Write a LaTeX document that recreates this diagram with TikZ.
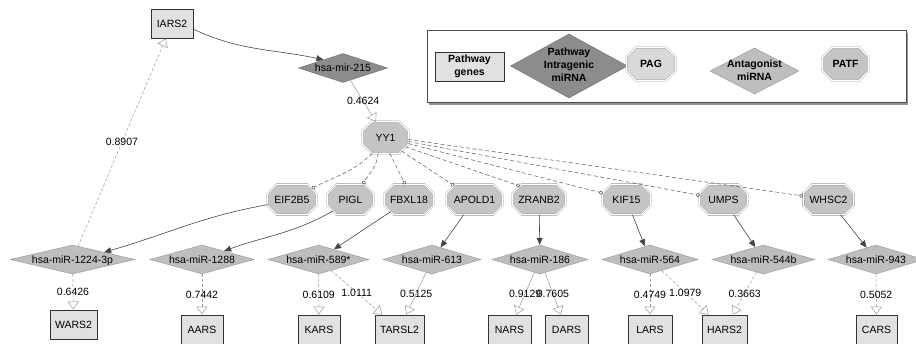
\documentclass[tikz,border=0pt]{standalone}
\usepackage{fontspec}
\setmainfont{Liberation Sans}
\usetikzlibrary{shapes.geometric,arrows.meta,shadows}
\definecolor{genefill}{HTML}{E1E1E1}
\definecolor{darkmirfill}{HTML}{8C8C8C}
\definecolor{mirfill}{HTML}{BEBEBE}
\definecolor{octfill}{HTML}{C4C4C4}
\definecolor{pagfill}{HTML}{D9D9D9}
\definecolor{edgedark}{HTML}{444444}
\definecolor{edgegray}{HTML}{999999}
\newcommand{\zbox}[1]{\makebox[0pt]{\smash{\raisebox{-3.75pt}{#1}}}}
\newcommand{\zstack}[1]{\makebox[0pt]{\begin{tabular}{@{}c@{}}#1\end{tabular}}}
\makeatletter
\pgfkeys{/pgf/oct chamfer/.initial=9pt}
\pgfdeclareshape{octbox}{%
  \inheritsavedanchors[from=rectangle]%
  \inheritanchor[from=rectangle]{center}%
  \inheritanchor[from=rectangle]{north}%
  \inheritanchor[from=rectangle]{south}%
  \inheritanchor[from=rectangle]{east}%
  \inheritanchor[from=rectangle]{west}%
  \savedmacro\octc{\pgfmathsetmacro\octc{\pgfkeysvalueof{/pgf/oct chamfer}}}%
  \anchorborder{%
    \edef\oct@qx{\the\pgf@x}\edef\oct@qy{\the\pgf@y}%
    \southwest\edef\oct@swx{\the\pgf@x}\edef\oct@swy{\the\pgf@y}%
    \northeast\edef\oct@nex{\the\pgf@x}\edef\oct@ney{\the\pgf@y}%
    \pgfmathsetmacro\oct@a{(\oct@nex-\oct@swx)/2}%
    \pgfmathsetmacro\oct@b{(\oct@ney-\oct@swy)/2}%
    \pgfmathsetmacro\oct@cx{(\oct@nex+\oct@swx)/2}%
    \pgfmathsetmacro\oct@cy{(\oct@ney+\oct@swy)/2}%
    \pgfmathsetmacro\oct@dx{\oct@qx-\oct@cx}%
    \pgfmathsetmacro\oct@dy{\oct@qy-\oct@cy}%
    \pgfmathsetmacro\oct@ax{max(abs(\oct@dx),0.01)}%
    \pgfmathsetmacro\oct@ay{max(abs(\oct@dy),0.01)}%
    \pgfmathsetmacro\oct@t{min(\oct@a/\oct@ax,\oct@b/\oct@ay,(\oct@a+\oct@b-\octc)/(\oct@ax+\oct@ay))}%
    \pgfmathsetmacro\oct@rx{\oct@cx+\oct@t*\oct@dx}%
    \pgfmathsetmacro\oct@ry{\oct@cy+\oct@t*\oct@dy}%
    \pgf@x=\oct@rx pt\relax
    \pgf@y=\oct@ry pt\relax
  }%
  \backgroundpath{%
    \southwest\edef\oct@swx{\the\pgf@x}\edef\oct@swy{\the\pgf@y}%
    \northeast\edef\oct@nex{\the\pgf@x}\edef\oct@ney{\the\pgf@y}%
    \pgfpathmoveto{\pgfpoint{\oct@swx+\octc pt}{\oct@swy}}%
    \pgfpathlineto{\pgfpoint{\oct@nex-\octc pt}{\oct@swy}}%
    \pgfpathlineto{\pgfpoint{\oct@nex}{\oct@swy+\octc pt}}%
    \pgfpathlineto{\pgfpoint{\oct@nex}{\oct@ney-\octc pt}}%
    \pgfpathlineto{\pgfpoint{\oct@nex-\octc pt}{\oct@ney}}%
    \pgfpathlineto{\pgfpoint{\oct@swx+\octc pt}{\oct@ney}}%
    \pgfpathlineto{\pgfpoint{\oct@swx}{\oct@ney-\octc pt}}%
    \pgfpathlineto{\pgfpoint{\oct@swx}{\oct@swy+\octc pt}}%
    \pgfpathclose
  }%
}
\makeatother
\tikzset{
  every node/.style={font=\fontsize{10.5}{12.5}\selectfont},
  gene/.style={rectangle, draw=black!80, line width=0.9pt, fill=genefill, inner sep=0pt, minimum height=29pt},
  darkmir/.style={diamond, draw=black!55, line width=0.5pt, fill=darkmirfill, inner sep=0pt, aspect=3},
  amir/.style={diamond, draw=black!38, line width=0.5pt, fill=mirfill, inner sep=0pt, aspect=3, minimum height=29pt},
  oct/.style={shape=octbox, oct chamfer=9pt,
    draw=black!40, double=white, double distance=1.1pt, line width=0.5pt, fill=octfill,
    inner sep=0pt, minimum height=30pt},
  lbl/.style={midway, inner sep=0pt},
  legtext/.style={font=\bfseries\fontsize{10.5}{13}\selectfont},
  darkarrow/.style={draw=edgedark, line width=0.6pt, -{Triangle[length=7pt,width=6pt]}},
  hollowsolid/.style={draw=edgegray, line width=0.5pt, -{Triangle[open,length=8pt,width=11pt]}},
  hollowdash/.style={draw=edgegray, line width=0.5pt, dash pattern=on 3pt off 2pt, -{Triangle[open,length=8pt,width=11pt]}},
  circdash/.style={draw=edgedark!90, line width=0.5pt, dash pattern=on 4pt off 2.5pt, -{Circle[open,length=4pt]}},
}
\begin{document}
\begin{tikzpicture}[x=1pt,y=1pt]
\useasboundingbox (0,0) rectangle (916,-343);

% legend
\node[draw=black!70, fill=white, line width=0.8pt, inner sep=0pt,
  drop shadow={shadow xshift=1.5pt, shadow yshift=-2.5pt, fill=black!70, opacity=0.6},
  minimum width=479pt, minimum height=72pt] (legend) at (666.5,-66) {};
\node[gene, minimum width=69pt, legtext] (lg1) at (469.5,-66.5) {\zstack{Pathway\\genes}};
\node[darkmir, minimum width=86pt, minimum height=64pt, legtext] (lg2) at (569,-66) {\zstack{Pathway\\Intragenic\\miRNA}};
\node[oct, fill=pagfill, minimum width=48pt, minimum height=32pt, legtext] (lg3) at (651,-64) {\zbox{PAG}};
\node[amir, minimum width=89pt, minimum height=46pt, legtext] (lg4) at (754.5,-71) {\zstack{Antagonist\\miRNA}};
\node[oct, minimum width=45pt, minimum height=32pt, legtext] (lg5) at (845.5,-64) {\zbox{PATF}};

% top nodes
\node[gene, minimum width=42pt] (iars) at (172,-23.5) {\zbox{IARS2}};
\node[darkmir, minimum width=89pt, minimum height=29pt] (m215) at (343,-68) {\zbox{hsa-mir-215}};
\node[oct, minimum width=45pt, minimum height=31pt] (yy1) at (385.5,-137.5) {\zbox{YY1}};

% PAG row
\node[oct, minimum width=48pt] (eif) at (292,-199.5) {\zbox{EIF2B5}};
\node[oct, minimum width=45pt] (pigl) at (350.5,-199.5) {\zbox{PIGL}};
\node[oct, minimum width=48pt] (fbxl) at (409,-199.5) {\zbox{FBXL18}};
\node[oct, minimum width=55pt] (apold) at (474.5,-199.5) {\zbox{APOLD1}};
\node[oct, minimum width=52pt] (zranb) at (539,-199.5) {\zbox{ZRANB2}};
\node[oct, minimum width=47pt] (kif) at (626.5,-199.5) {\zbox{KIF15}};
\node[oct, minimum width=47pt] (umps) at (723.5,-199.5) {\zbox{UMPS}};
\node[oct, minimum width=50pt] (whsc) at (828.5,-199.5) {\zbox{WHSC2}};

% miRNA row
\node[amir, minimum width=125pt] (m1224) at (72.5,-259.5) {\zbox{hsa-miR-1224-3p}};
\node[amir, minimum width=104pt] (m1288) at (202,-259.5) {\zbox{hsa-miR-1288}};
\node[amir, minimum width=101pt] (m589) at (318.5,-259.5) {\zbox{hsa-miR-589*}};
\node[amir, minimum width=98pt] (m613) at (432,-259.5) {\zbox{hsa-miR-613}};
\node[amir, minimum width=96pt] (m186) at (540,-259.5) {\zbox{hsa-miR-186}};
\node[amir, minimum width=96pt] (m564) at (650,-259.5) {\zbox{hsa-miR-564}};
\node[amir, minimum width=103pt] (m544) at (763.5,-259.5) {\zbox{hsa-miR-544b}};
\node[amir, minimum width=96pt] (m943) at (876,-259.5) {\zbox{hsa-miR-943}};

% gene row
\node[gene, minimum width=47pt] (wars) at (73.5,-324.5) {\zbox{WARS2}};
\node[gene, minimum width=42pt] (aars) at (202,-329.5) {\zbox{AARS}};
\node[gene, minimum width=42pt] (kars) at (319,-329.5) {\zbox{KARS}};
\node[gene, minimum width=49pt] (tarsl) at (399.5,-329.5) {\zbox{TARSL2}};
\node[gene, minimum width=43pt] (nars) at (509.5,-329.5) {\zbox{NARS}};
\node[gene, minimum width=43pt] (dars) at (566.5,-329.5) {\zbox{DARS}};
\node[gene, minimum width=44pt] (lars) at (650,-329.5) {\zbox{LARS}};
\node[gene, minimum width=45pt] (hars) at (724.5,-329.5) {\zbox{HARS2}};
\node[gene, minimum width=41pt] (cars) at (876.5,-329.5) {\zbox{CARS}};

% edges top
\draw[darkarrow] (iars.-15) to[out=-25,in=168] (m215.157);
\draw[hollowsolid] (m215) -- node[lbl]{0.4624} (yy1);
\draw[hollowdash] (m1224) -- node[lbl]{0.8907} (iars);

% YY1 to PAGs
\draw[circdash] (yy1.-130) to[out=225,in=28] (eif.29);
\draw[circdash] (yy1.-115) to[out=-95,in=60] (pigl.51);
\draw[circdash] (yy1.-75) -- (fbxl.104);
\draw[circdash] (yy1.-40) -- (apold.146);
\draw[circdash] (yy1.-25) -- (zranb.145);
\draw[circdash] (yy1.-15) -- (kif.165);
\draw[circdash] (yy1.-10) -- (umps.170);
\draw[circdash] (yy1.-5) -- (whsc.172);

% PAG to miRNA
\draw[darkarrow] (eif.192) to[out=190,in=16] (m1224.13);
\draw[darkarrow] (pigl.213) to[out=210,in=20] (m1288.21);
\draw[darkarrow] (fbxl) -- (m589);
\draw[darkarrow] (apold) -- (m613);
\draw[darkarrow] (zranb) -- (m186);
\draw[darkarrow] (kif) -- (m564);
\draw[darkarrow] (umps) -- (m544);
\draw[darkarrow] (whsc) -- (m943);

% miRNA to genes
\draw[hollowdash] (m1224) -- node[lbl]{0.6426} (wars);
\draw[hollowdash] (m1288) -- node[lbl]{0.7442} (aars);
\draw[hollowdash] (m589) -- node[lbl]{0.6109} (kars);
\draw[hollowdash] (m589) -- node[lbl]{1.0111} (tarsl);
\draw[hollowsolid] (m613) -- node[lbl]{0.5125} (tarsl);
\draw[hollowsolid] (m186) -- node[lbl]{0.9129} (nars);
\draw[hollowsolid] (m186) -- node[lbl]{0.7605} (dars);
\draw[hollowdash] (m564) -- node[lbl]{0.4749} (lars);
\draw[hollowdash] (m564) -- node[lbl]{1.0979} (hars);
\draw[hollowdash] (m544) -- node[lbl]{0.3663} (hars);
\draw[hollowdash] (m943) -- node[lbl]{0.5052} (cars);
\end{tikzpicture}
\end{document}
